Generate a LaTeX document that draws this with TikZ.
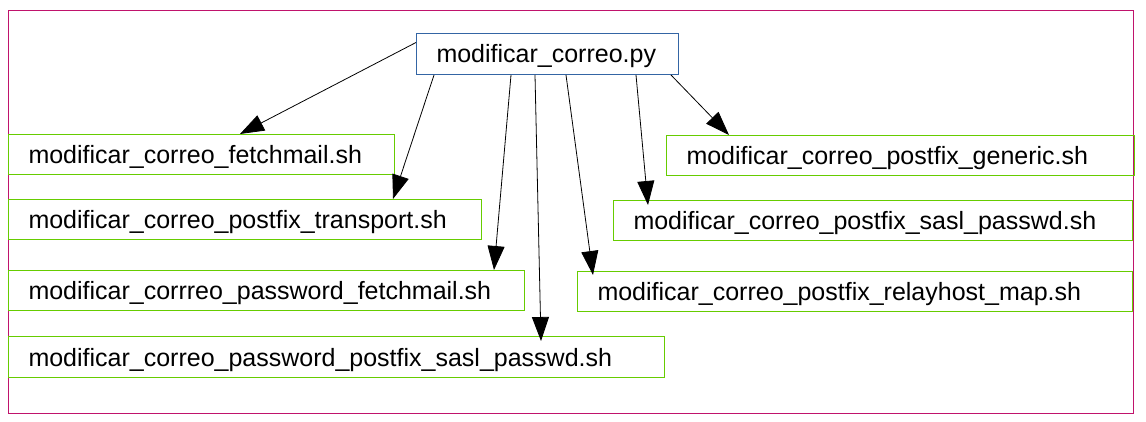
\documentclass[tikz,border=0pt]{standalone}
\usepackage{fontspec}
\setmainfont{Liberation Sans}
\usetikzlibrary{arrows.meta}
\definecolor{framered}{HTML}{C0136C}
\definecolor{boxblue}{HTML}{3465A4}
\definecolor{boxgreen}{HTML}{66CC00}
\tikzset{
  script/.style={draw=boxgreen, line width=1pt, anchor=north west, minimum height=40, inner xsep=20pt, inner ysep=0pt, text height=18pt, text depth=0pt, align=left, font=\fontsize{25}{30}\selectfont},
  calls/.style={draw, line width=0.8pt, -{Triangle[length=24pt,width=17pt]}}
}
\begin{document}
\begin{tikzpicture}[x=1pt,y=-1pt]
\useasboundingbox (0,0) rectangle (1146,422);
\draw[framered, line width=1pt] (8,11) rectangle (1133,413);

\node[script, draw=boxblue, minimum height=41, text width=222] (main) at (416,33) {modificar\_correo.py};
\node[script, text width=346] (fetch) at (8,134) {modificar\_correo\_fetchmail.sh};
\node[script, text width=433] (transport) at (8,199) {modificar\_correo\_postfix\_transport.sh};
\node[script, text width=476] (pwfetch) at (8,270) {modificar\_corrreo\_password\_fetchmail.sh};
\node[script, minimum height=41, text width=616] (pwsasl) at (8,336) {modificar\_correo\_password\_postfix\_sasl\_passwd.sh};
\node[script, text width=428] (generic) at (666,135) {modificar\_correo\_postfix\_generic.sh};
\node[script, text width=479] (sasl) at (613,200) {modificar\_correo\_postfix\_sasl\_passwd.sh};
\node[script, text width=515] (relay) at (577,271) {modificar\_correo\_postfix\_relayhost\_map.sh};

\draw[calls] ([yshift=11.5pt]main.west) -- ([xshift=232pt]fetch.north west);
\draw[calls] ([xshift=18pt]main.south west) -- ([xshift=385pt]transport.north west);
\draw[calls] ([xshift=95pt]main.south west) -- ([xshift=486pt]pwfetch.north west);
\draw[calls] ([xshift=119pt]main.south west) -- ([xshift=533pt,yshift=-5pt]pwsasl.north west);
\draw[calls] ([xshift=150pt]main.south west) -- ([xshift=16pt,yshift=-4pt]relay.north west);
\draw[calls] ([xshift=220pt]main.south west) -- ([xshift=35pt,yshift=-5pt]sasl.north west);
\draw[calls] ([xshift=255pt]main.south west) -- ([xshift=63pt]generic.north west);
\end{tikzpicture}
\end{document}
